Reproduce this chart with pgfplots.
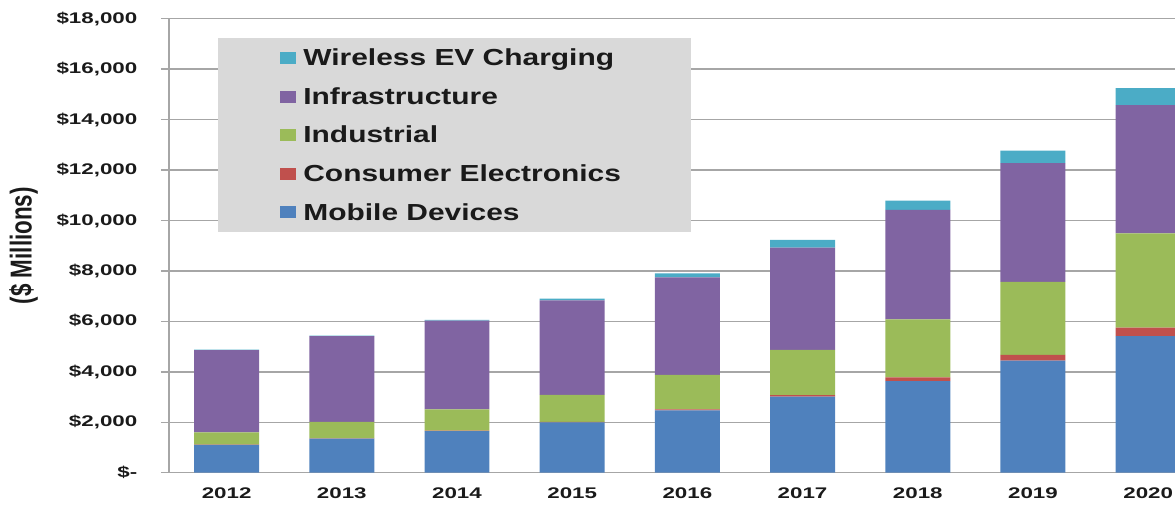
\documentclass[border=0pt]{standalone}
\usepackage{fontspec}
\setmainfont{Liberation Sans}
\newfontfamily\tickfont[FakeStretch=1.45]{Liberation Sans}
\newfontfamily\legfont[FakeStretch=1.29]{Liberation Sans}
\usepackage{graphicx}
\usepackage{pgfplots}
\pgfplotsset{compat=1.18}
\definecolor{cMob}{HTML}{4F81BD}
\definecolor{cCon}{HTML}{C0504D}
\definecolor{cInd}{HTML}{9BBB59}
\definecolor{cInf}{HTML}{8064A2}
\definecolor{cEV}{HTML}{4BACC6}
\definecolor{gridgray}{HTML}{A6A6A6}
\definecolor{legbg}{HTML}{D9D9D9}
\definecolor{txt}{HTML}{1A1A1A}
\begin{document}
\begin{tikzpicture}
\begin{axis}[name=ax, scale only axis, width=503pt, height=227pt,
  ybar stacked, bar width=0.564,
  xmin=-0.5, xmax=8.233, ymin=0, ymax=18000,
  axis lines*=left,
  axis line style={draw=gridgray, line width=0.7pt},
  ymajorgrids, grid style={gridgray, line width=0.7pt},
  scaled y ticks=false,
  ytick={0,2000,...,18000},
  yticklabels={{\$-},{\$2,000},{\$4,000},{\$6,000},{\$8,000},{\$10,000},{\$12,000},{\$14,000},{\$16,000},{\$18,000}},
  xtick={0,...,8},
  xticklabels={2012,2013,2014,2015,2016,2017,2018,2019,2020},
  tick align=outside, major tick length=4pt,
  ytick style={draw=gridgray, line width=0.7pt},
  xtick style={draw=none},
  ticklabel style={font=\tickfont\bfseries\fontsize{7.7}{9}\selectfont, text=txt, inner sep=0pt},
  yticklabel style={anchor=east, xshift=-11.65pt},
  xticklabel style={anchor=north, yshift=-3.5pt},
  ylabel={\scalebox{1}[1.35]{(\$ Millions)}},
  ylabel style={at={(axis description cs:-0.1446,0.5)}, anchor=center, font=\bfseries\fontsize{11.2}{13}\selectfont, text=txt},
  reverse legend,
  legend cell align=left,
  legend image code/.code={\fill[#1] (0pt,-2.35pt) rectangle (8pt,3.65pt);},
  legend style={at={(0.1103,0.937)}, anchor=north west, fill=none, draw=none, inner sep=0pt,
    row sep=7.8pt, column sep=3.5pt,
    font=\legfont\bfseries\fontsize{11.6}{13}\selectfont, text=txt,
    nodes={inner sep=0pt, text height=9pt, text depth=2.5pt}},
]
\fill[legbg] (rel axis cs:0.0487,0.958) rectangle (rel axis cs:0.5186,0.531);
\addplot[fill=cMob, draw=none] coordinates {(0,1100) (1,1350) (2,1650) (3,2000) (4,2470) (5,3020) (6,3630) (7,4440) (8,5420)};
\addplot[fill=cCon, draw=none] coordinates {(0,10) (1,10) (2,20) (3,20) (4,40) (5,60) (6,150) (7,230) (8,330)};
\addplot[fill=cInd, draw=none] coordinates {(0,490) (1,660) (2,840) (3,1070) (4,1370) (5,1790) (6,2300) (7,2900) (8,3740)};
\addplot[fill=cInf, draw=none] coordinates {(0,3260) (1,3400) (2,3520) (3,3740) (4,3860) (5,4050) (6,4340) (7,4700) (8,5080)};
\addplot[fill=cEV, draw=none] coordinates {(0,15) (1,15) (2,25) (3,70) (4,160) (5,310) (6,370) (7,500) (8,680)};
\legend{Mobile Devices, Consumer Electronics, Industrial, Infrastructure, Wireless EV Charging}
\end{axis}
\pgfresetboundingbox
\path[use as bounding box] ([xshift=-84.5pt,yshift=-15.65pt]ax.south west) rectangle ([yshift=9.35pt]ax.north east);
\end{tikzpicture}
\end{document}
